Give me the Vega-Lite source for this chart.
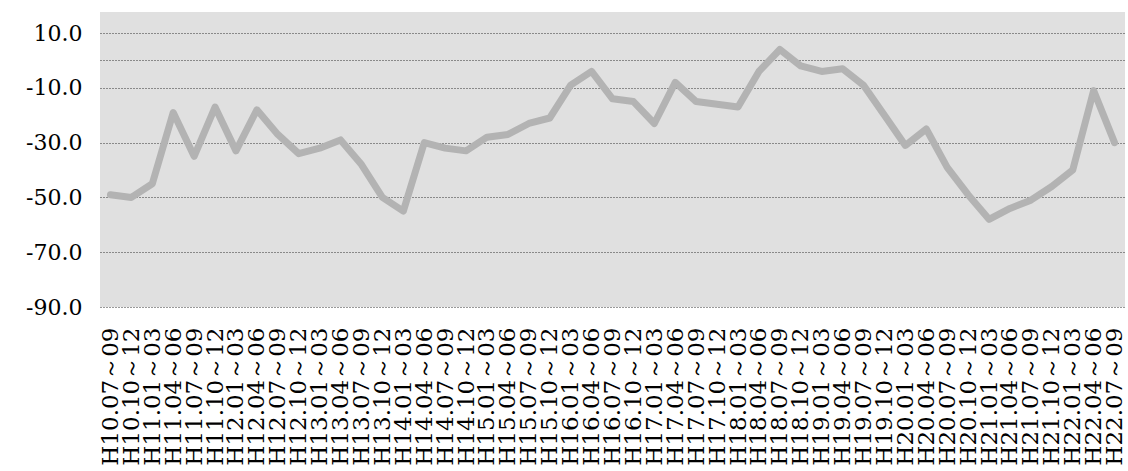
{
  "$schema": "https://vega.github.io/schema/vega-lite/v6.json",
  "autosize": "none",
  "padding": {"left": 100, "top": 12, "right": 3, "bottom": 164},
  "width": 1025,
  "height": 295,
  "background": "white",
  "view": {"fill": "#e0e0e0", "stroke": null},
  "config": {
    "font": "DejaVu Serif",
    "axis": {"labelFont": "DejaVu Serif", "labelColor": "black"}
  },
  "data": {
    "values": [
      {"period": "H10.07～09", "value": -49},
      {"period": "H10.10～12", "value": -50},
      {"period": "H11.01～03", "value": -45},
      {"period": "H11.04～06", "value": -19},
      {"period": "H11.07～09", "value": -35},
      {"period": "H11.10～12", "value": -17},
      {"period": "H12.01～03", "value": -33},
      {"period": "H12.04～06", "value": -18},
      {"period": "H12.07～09", "value": -27},
      {"period": "H12.10～12", "value": -34},
      {"period": "H13.01～03", "value": -32},
      {"period": "H13.04～06", "value": -29},
      {"period": "H13.07～09", "value": -38},
      {"period": "H13.10～12", "value": -50},
      {"period": "H14.01～03", "value": -55},
      {"period": "H14.04～06", "value": -30},
      {"period": "H14.07～09", "value": -32},
      {"period": "H14.10～12", "value": -33},
      {"period": "H15.01～03", "value": -28},
      {"period": "H15.04～06", "value": -27},
      {"period": "H15.07～09", "value": -23},
      {"period": "H15.10～12", "value": -21},
      {"period": "H16.01～03", "value": -9},
      {"period": "H16.04～06", "value": -4},
      {"period": "H16.07～09", "value": -14},
      {"period": "H16.10～12", "value": -15},
      {"period": "H17.01～03", "value": -23},
      {"period": "H17.04～06", "value": -8},
      {"period": "H17.07～09", "value": -15},
      {"period": "H17.10～12", "value": -16},
      {"period": "H18.01～03", "value": -17},
      {"period": "H18.04～06", "value": -4},
      {"period": "H18.07～09", "value": 4},
      {"period": "H18.10～12", "value": -2},
      {"period": "H19.01～03", "value": -4},
      {"period": "H19.04～06", "value": -3},
      {"period": "H19.07～09", "value": -9},
      {"period": "H19.10～12", "value": -20},
      {"period": "H20.01～03", "value": -31},
      {"period": "H20.04～06", "value": -25},
      {"period": "H20.07～09", "value": -39},
      {"period": "H20.10～12", "value": -49},
      {"period": "H21.01～03", "value": -58},
      {"period": "H21.04～06", "value": -54},
      {"period": "H21.07～09", "value": -51},
      {"period": "H21.10～12", "value": -46},
      {"period": "H22.01～03", "value": -40},
      {"period": "H22.04～06", "value": -11},
      {"period": "H22.07～09", "value": -30}
    ]
  },
  "mark": {"type": "line", "color": "#b3b3b3", "strokeWidth": 7, "strokeJoin": "round", "strokeCap": "round"},
  "encoding": {
    "x": {
      "field": "period",
      "type": "ordinal",
      "sort": null,
      "scale": {"type": "point", "padding": 0.5},
      "axis": {
        "title": null,
        "labelAngle": -90,
        "labelAlign": "right",
        "labelBaseline": "middle",
        "labelFontSize": 23,
        "labelPadding": 20,
        "ticks": false,
        "domain": false,
        "grid": false,
        "labelOverlap": false,
        "labelBound": false
      }
    },
    "y": {
      "field": "value",
      "type": "quantitative",
      "scale": {"domain": [-90, 17.7], "nice": false, "zero": false},
      "axis": {
        "title": null,
        "values": [-90, -70, -50, -30, -10, 0, 10],
        "labelExpr": "datum.value == 0 ? '' : replace(format(datum.value, '.1f'), '−', '-')",
        "labelFontSize": 22,
        "labelPadding": 18,
        "ticks": false,
        "domain": false,
        "grid": true,
        "gridColor": "#333333",
        "gridDash": [1, 2],
        "gridWidth": 1,
        "labelBound": false
      }
    }
  }
}
